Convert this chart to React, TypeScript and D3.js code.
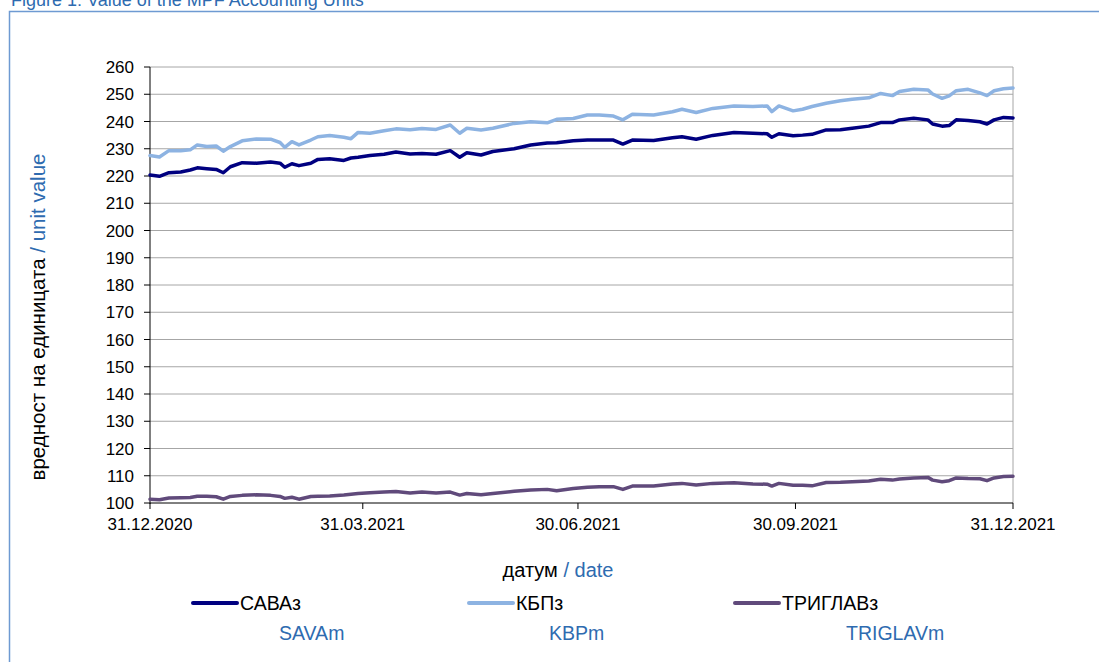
import React from 'react';
import * as d3 from 'd3';

// sample dates (roughly every few days)
const dates = [
  '2020-12-31', '2021-01-04', '2021-01-08', '2021-01-13', '2021-01-17', '2021-01-20', '2021-01-24', '2021-01-28',
  '2021-01-31', '2021-02-03', '2021-02-08', '2021-02-14', '2021-02-20', '2021-02-24', '2021-02-26', '2021-03-01',
  '2021-03-04', '2021-03-09', '2021-03-12', '2021-03-17', '2021-03-23', '2021-03-26', '2021-03-29', '2021-04-03',
  '2021-04-09', '2021-04-14', '2021-04-20', '2021-04-25', '2021-05-01', '2021-05-07', '2021-05-11', '2021-05-14',
  '2021-05-20', '2021-05-25', '2021-06-03', '2021-06-10', '2021-06-17', '2021-06-21', '2021-06-28', '2021-07-04',
  '2021-07-09', '2021-07-15', '2021-07-19', '2021-07-23', '2021-08-01', '2021-08-09', '2021-08-13', '2021-08-19',
  '2021-08-26', '2021-09-04', '2021-09-12', '2021-09-18', '2021-09-20', '2021-09-23', '2021-09-29', '2021-10-03',
  '2021-10-07', '2021-10-13', '2021-10-19', '2021-10-24', '2021-10-31', '2021-11-05', '2021-11-10', '2021-11-13',
  '2021-11-19', '2021-11-25', '2021-11-27', '2021-12-01', '2021-12-04', '2021-12-07', '2021-12-12', '2021-12-17',
  '2021-12-20', '2021-12-23', '2021-12-27', '2021-12-31',
];

const sava = [
  220.4, 219.9, 221.2, 221.5, 222.2, 223.0, 222.7, 222.4, 221.2, 223.4, 224.9, 224.7, 225.1, 224.7, 223.2, 224.5,
  223.8, 224.7, 226.1, 226.3, 225.7, 226.6, 226.9, 227.5, 228.0, 228.8, 228.1, 228.3, 228.0, 229.3, 226.9, 228.5,
  227.7, 229.0, 230.0, 231.4, 232.1, 232.2, 232.9, 233.2, 233.2, 233.2, 231.7, 233.2, 233.0, 234.0, 234.4, 233.5,
  234.9, 236.0, 235.7, 235.5, 234.2, 235.5, 234.8, 235.0, 235.3, 236.9, 237.0, 237.5, 238.3, 239.6, 239.6, 240.6,
  241.2, 240.6, 239.1, 238.3, 238.5, 240.6, 240.4, 239.9, 239.1, 240.6, 241.5, 241.3,
];

const kbp = [
  227.5, 227.0, 229.3, 229.3, 229.6, 231.4, 230.8, 231.0, 229.1, 230.8, 232.9, 233.6, 233.5, 232.3, 230.5, 232.6,
  231.4, 233.2, 234.4, 234.9, 234.2, 233.7, 236.0, 235.7, 236.6, 237.3, 237.0, 237.4, 237.1, 238.7, 235.7, 237.5,
  236.9, 237.5, 239.3, 239.9, 239.5, 240.8, 241.1, 242.4, 242.4, 242.0, 240.6, 242.7, 242.4, 243.6, 244.5, 243.3,
  244.8, 245.7, 245.5, 245.7, 243.6, 245.7, 243.9, 244.5, 245.5, 246.7, 247.6, 248.2, 248.7, 250.3, 249.5, 251.0,
  251.8, 251.6, 250.1, 248.5, 249.4, 251.3, 251.8, 250.5, 249.5, 251.3, 252.0, 252.3,
];

const triglav = [
  101.4, 101.2, 101.8, 101.9, 102.0, 102.5, 102.5, 102.3, 101.4, 102.4, 102.8, 103.0, 102.8, 102.4, 101.7, 102.1,
  101.4, 102.4, 102.5, 102.6, 102.9, 103.2, 103.5, 103.8, 104.0, 104.2, 103.7, 104.0, 103.7, 104.0, 102.9, 103.5,
  103.0, 103.5, 104.3, 104.8, 105.0, 104.5, 105.3, 105.8, 106.0, 106.0, 105.0, 106.2, 106.2, 107.0, 107.2, 106.6,
  107.2, 107.4, 107.0, 106.9, 106.2, 107.2, 106.5, 106.5, 106.3, 107.5, 107.6, 107.8, 108.1, 108.7, 108.4, 108.8,
  109.2, 109.4, 108.4, 107.8, 108.2, 109.2, 109.0, 108.9, 108.2, 109.2, 109.7, 109.8,
];

const xTickDates = ['2020-12-31', '2021-03-31', '2021-06-30', '2021-09-30', '2021-12-31'];
const yTicks = d3.range(100, 261, 10);

const seriesNames = ['САВАз', 'КБПз', 'ТРИГЛАВз'];
const seriesLatin = ['SAVAm', 'KBPm', 'TRIGLAVm'];
const seriesColors = ['#000080', '#8DB3E2', '#604A7B'];

const W = 1099;
const H = 662;
const left = 150, right = 1013, top = 67, bottom = 503;
const BLUE = '#2E6BB0';
const FONT = 'Arial, "Liberation Sans", sans-serif';

const parse = d3.timeParse('%Y-%m-%d');
const fmt = d3.timeFormat('%d.%m.%Y');

export default function App() {
  const x = d3.scaleTime()
    .domain([parse('2020-12-31')!, parse('2021-12-31')!])
    .range([left, right]);
  const y = d3.scaleLinear().domain([100, 260]).range([bottom, top]);

  const series = [sava, kbp, triglav];
  const line = d3.line<number>()
    .x((_, i) => x(parse(dates[i])!))
    .y(d => y(d));

  const legendX = [193, 469, 735];
  const latinX = [279, 549, 846];

  return (
    <svg width={W} height={H} style={{ position: 'absolute', left: 0, top: 0, background: '#fff' }}
      fontFamily={FONT}>
      <rect x={0} y={0} width={W} height={H} fill="#fff" />
      <text x={11} y={6} fontSize={18} fill={BLUE}>Figure 1: Value of the MPF Accounting Units</text>
      <rect x={9.5} y={11.5} width={W + 20} height={H + 20} fill="none" stroke="#6E9AD2" strokeWidth={1.5} />

      {/* grid */}
      {yTicks.filter(t => t > 100).map(t => (
        <line key={t} x1={left} x2={right} y1={y(t)} y2={y(t)} stroke="#A6A6A6" strokeWidth={1} />
      ))}
      <line x1={right} x2={right} y1={top} y2={bottom} stroke="#A6A6A6" strokeWidth={1} />

      {/* y axis */}
      <line x1={left} x2={left} y1={top} y2={bottom + 1} stroke="#000" strokeWidth={1} />
      {yTicks.map(t => (
        <g key={t}>
          <line x1={left - 6} x2={left} y1={y(t)} y2={y(t)} stroke="#000" />
          <text x={left - 16} y={y(t)} dy="0.36em" textAnchor="end" fontSize={17}>{t}</text>
        </g>
      ))}

      {/* x axis */}
      <line x1={left} x2={right} y1={bottom} y2={bottom} stroke="#000" strokeWidth={1} />
      {xTickDates.map(d => {
        const xx = x(parse(d)!);
        return (
          <g key={d}>
            <line x1={xx} x2={xx} y1={bottom} y2={bottom + 6} stroke="#000" />
            <text x={xx} y={bottom + 27} textAnchor="middle" fontSize={17}>{fmt(parse(d)!)}</text>
          </g>
        );
      })}

      {/* series */}
      {series.map((s, i) => (
        <path key={i} d={line(s) ?? ''} fill="none" stroke={seriesColors[i]} strokeWidth={3.5}
          strokeLinejoin="round" strokeLinecap="round" />
      ))}

      {/* axis titles */}
      <text transform="translate(45,317) rotate(-90)" textAnchor="middle" fontSize={20.5}>
        <tspan fill="#000">вредност на единицата </tspan>
        <tspan fill={BLUE}>/ unit value</tspan>
      </text>
      <text x={558} y={577} textAnchor="middle" fontSize={20}>
        <tspan fill="#000">датум </tspan>
        <tspan fill={BLUE}>/ date</tspan>
      </text>

      {/* legend */}
      {seriesNames.map((n, i) => (
        <g key={n}>
          <line x1={legendX[i]} x2={legendX[i] + 44} y1={603} y2={603} stroke={seriesColors[i]} strokeWidth={4}
            strokeLinecap="round" />
          <text x={legendX[i] + 47} y={610} fontSize={19.5} fill="#000">{n}</text>
        </g>
      ))}
      {seriesLatin.map((n, i) => (
        <text key={n} x={latinX[i]} y={640} fontSize={19.5} fill={BLUE}>{n}</text>
      ))}
    </svg>
  );
}
